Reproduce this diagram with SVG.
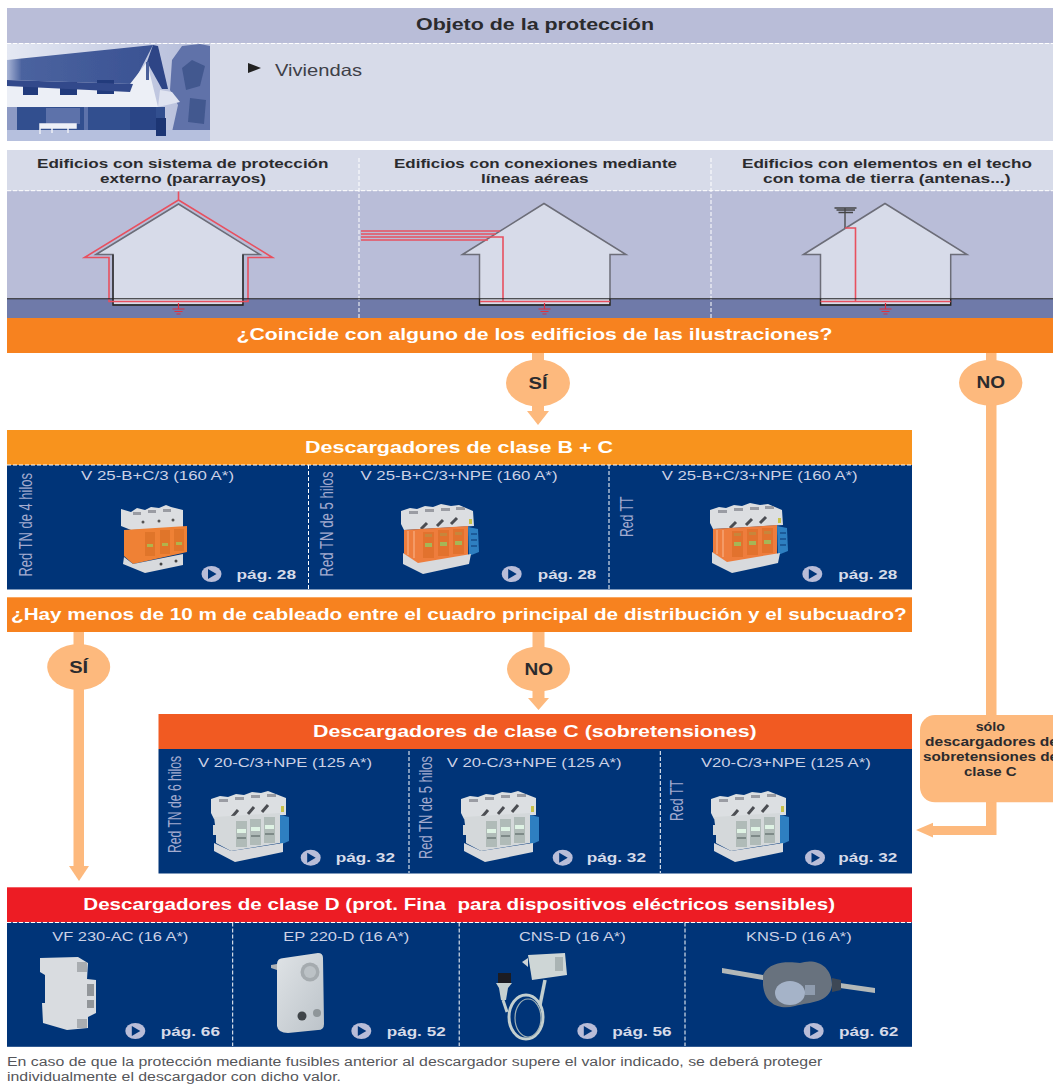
<svg xmlns="http://www.w3.org/2000/svg" xmlns:xlink="http://www.w3.org/1999/xlink" width="1053" height="1084" viewBox="0 0 1053 1084">
<style>
text{font-family:"Liberation Sans",Arial,sans-serif}
.dk{fill:#2b2b2e;font-weight:700;font-size:13.5px}
.ttl{fill:#fff;font-weight:700;font-size:17px}
.lab{fill:#cdd2e6;font-size:13.5px}
.vert{fill:#a3abcf;font-size:17.5px}
.pg{fill:#d7dbe9;font-weight:700;font-size:13.5px}
.badge{fill:#2b2b2e;font-weight:700;font-size:16px}
.dash{stroke:#fff;stroke-width:1;stroke-dasharray:4 2;fill:none}
.hs{fill:#d7dbe9;stroke:#6c6d78;stroke-width:1.5}
.blk{fill:none;stroke:#222;stroke-width:1.3}
.red{fill:none;stroke:#e8505f;stroke-width:1.6}
.blue{fill:#003478}
.conn{fill:#fdb97d}
</style>
<defs>
<filter id="soft" x="-10%" y="-10%" width="120%" height="120%"><feGaussianBlur stdDeviation="0.7"/></filter>
<linearGradient id="sky" x1="0" x2="1" y1="0" y2="0"><stop offset="0" stop-color="#e4e8f3"/><stop offset="1" stop-color="#b3bbd9"/></linearGradient>
<linearGradient id="roof" x1="0" x2="1" y1="0" y2="0"><stop offset="0" stop-color="#a9b5d6"/><stop offset="0.1" stop-color="#4b639f"/><stop offset="1" stop-color="#3a5293"/></linearGradient>
<linearGradient id="body" x1="0" x2="1" y1="0" y2="1"><stop offset="0" stop-color="#dfe3e6"/><stop offset="1" stop-color="#bcc3c9"/></linearGradient>
<g id="play"><ellipse cx="0" cy="0" rx="10" ry="8" fill="#b9bdd8"/><path d="M-3.500-5L5 0L-3.500 5Z" fill="#003478"/></g>
<g id="gnd" stroke="#e0303f" stroke-width="1.200" fill="none"><path d="M0 0V6M-6 6H6M-4 8.500H4M-2 11H2"/></g>
<g id="devB" filter="url(#soft)">
<path d="M0 7L9 4L16 5L24 2L32 3L40 0L50 2L58 1L72 7L73 22L3 26L0 20Z" fill="#dcdee1"/>
<path d="M8 7h9v3h-9zM24 5h9v3h-9zM40 4h9v3h-9zM55 3h9v3h-9z" fill="#9a9ca3"/>
<path d="M20 25L26 19M36 22L42 16M50 20L56 14" stroke="#4c4e52" stroke-width="3"/>
<path d="M68 15l3 0v5l-3 0z" fill="#c8c24a"/>
<path d="M3 26L67 22V52L17 60L3 50Z" fill="#ee7d3e"/>
<path d="M7 27v24M13 27v27" stroke="#f49a66" stroke-width="2"/>
<path d="M22 28h11v26h-11zM37 26h11v26h-11zM52 25h11v25h-11z" fill="#e2722f"/>
<path d="M24 39h7v4h-7zM39 38h7v4h-7zM54 37h7v4h-7z" fill="#a6b656"/>
<path d="M24 30h7v3h-7zM39 29h7v3h-7zM54 28h7v3h-7z" fill="#c7863a"/>
<path d="M67 23L77 25L78 48L68 52Z" fill="#2d7fc1"/>
<path d="M70 30h6M70 36h6M70 42h6" stroke="#174f8c" stroke-width="1.500"/>
<path d="M2 49L17 59L70 50L68 60L22 70L2 60Z" fill="#d8dadd"/>
</g>
<g id="devA" filter="url(#soft)">
<path d="M0 5L10 8L16 4L24 6L30 3L38 4L45 1L50 3L62 6V24L10 26L0 22Z" fill="#dcdee1"/>
<path d="M12 8h8v3h-8zM27 6h8v3h-8zM42 5h8v3h-8z" fill="#9a9ca3"/>
<circle cx="22" cy="18" r="1.500" fill="#555"/><circle cx="38" cy="17" r="1.500" fill="#555"/><circle cx="52" cy="16" r="1.500" fill="#555"/>
<path d="M3 26L66 22V48L12 60L3 52Z" fill="#ef8134"/>
<path d="M24 28h10v24h-10zM39 26h10v24h-10zM53 25h10v22h-10z" fill="#e0752a"/>
<path d="M26 40h6v3h-6zM41 39h6v3h-6zM55 38h6v3h-6z" fill="#b2b34b"/>
<path d="M3 53L12 60L62 50V61L24 69L2 60Z" fill="#d8dadd"/>
<circle cx="40" cy="60" r="1.500" fill="#444"/><circle cx="55" cy="57" r="1.500" fill="#444"/>
</g>
<g id="devC" filter="url(#soft)">
<path d="M0 8L9 5L17 6L25 3L33 4L41 1L50 2L57 0L75 7V24L3 28L0 22Z" fill="#dcdfe2"/>
<path d="M8 8h9v3h-9zM24 6h9v3h-9zM40 4h9v3h-9zM56 3h9v3h-9z" fill="#9a9ca3"/>
<path d="M21 26L27 19M37 23L43 16M51 21L57 14" stroke="#4c4e52" stroke-width="3"/>
<path d="M70 15l3 0v6l-3 0z" fill="#c8c24a"/>
<path d="M3 26L69 22V52L20 60L5 52V44H2V34H4Z" fill="#d4d8da"/>
<path d="M25 30h11v26h-11zM39 28h11v26h-11zM53 26h11v26h-11z" fill="#b0bbb8"/>
<path d="M26 38h9v4h-9zM40 36h9v4h-9zM54 34h9v4h-9z" fill="#dff3e4"/>
<path d="M26 46h9v2h-9zM40 44h9v2h-9zM54 42h9v2h-9z" fill="#7e8a88"/>
<path d="M69 24L78 26V50L69 54Z" fill="#2d7fc1"/>
<path d="M3 52L20 60L72 52V61L24 71L3 60Z" fill="#d8dadd"/>
</g>
</defs>
<rect width="1053" height="1084" fill="#fff"/>

<g id="objeto">
<rect x="7" y="8" width="1046" height="35.500" fill="#b9bdd8"/>
<rect x="7" y="44" width="1046" height="97" fill="#d7dbe9"/>
<path class="dash" d="M7 43.500H1053"/>
<text x="416" y="30" class="dk" style="font-size:16px" textLength="238" lengthAdjust="spacingAndGlyphs">Objeto de la protección</text>
<g id="foto-vivienda" filter="url(#soft)">
<rect x="7" y="44" width="203" height="97" fill="url(#sky)"/>
<path d="M172 60L182 46L200 44L210 46V132H172L178 105L170 90Z" fill="#6072a9"/>
<path d="M182 68L192 60L205 66L200 86L186 90ZM190 98L206 100L204 124L188 122Z" fill="#42588f"/>
<path d="M7 60L153 45L133 84L7 80Z" fill="url(#roof)"/>
<path d="M7 84L130 84L147 62L158 107H7Z" fill="#eceff6"/>
<path d="M158 107L180 102L172 92L160 90Z" fill="#dfe3f0"/>
<path d="M153 45L158 46L168 89L162 89L147 62Z" fill="#2d4486"/>
<path d="M146 62H149V80H146Z" fill="#4a5e99"/>
<path d="M23 84H38V95H23ZM60 82H77V95H60ZM97 80H114V94H97Z" fill="#233b7b"/>
<path d="M7 80L133 84L130 92L7 86Z" fill="#33498b"/>
<path d="M7 107H165V132H7Z" fill="#33508f"/>
<path d="M7 107H17V130H7Z" fill="#8d9ac4"/>
<path d="M84 107H88V130H84ZM46 108H80V124H46Z" fill="#5d72aa"/>
<path d="M7 130H210V141H7Z" fill="#b6c0de"/>
<path d="M130 107H156V130H130Z" fill="#2b4586"/>
<path d="M40 124H76V128H40ZM40 124V134M52 128V133M68 128V133" stroke="#eef0f7" stroke-width="1.500" fill="#eef0f7"/>
<path d="M156 118H166V136H156Z" fill="#1f3673"/>
</g>
<path d="M248 63L261 68L248 73Z" fill="#222"/>
<text x="275" y="75.500" fill="#3e4048" font-size="16.500" textLength="87" lengthAdjust="spacingAndGlyphs">Viviendas</text>
</g>

<g id="edificios">
<rect x="7" y="150" width="1046" height="41" fill="#d7dbe9"/>
<rect x="7" y="191" width="1046" height="108" fill="#b9bdd8"/>
<rect x="7" y="299" width="1046" height="19" fill="#6f7aa9"/>
<path class="dash" d="M7 190.700H1053M359 158V318M711 158V318"/>
<text x="37" y="168" class="dk" textLength="291.500" lengthAdjust="spacingAndGlyphs">Edificios con sistema de protección</text>
<text x="100" y="183" class="dk" textLength="166" lengthAdjust="spacingAndGlyphs">externo (pararrayos)</text>
<text x="394" y="168" class="dk" textLength="283" lengthAdjust="spacingAndGlyphs">Edificios con conexiones mediante</text>
<text x="481" y="183" class="dk" textLength="107.500" lengthAdjust="spacingAndGlyphs">líneas aéreas</text>
<text x="742" y="168" class="dk" textLength="290" lengthAdjust="spacingAndGlyphs">Edificios con elementos en el techo</text>
<text x="763" y="183" class="dk" textLength="247.500" lengthAdjust="spacingAndGlyphs">con toma de tierra (antenas...)</text>
</g>

<g id="casa-1">
<path class="hs" d="M96 254.500L178.500 204L260 254.500H243V305H113V254.500Z"/>
<path class="blk" d="M113 254.500V305H243V254.500"/>
<path class="red" d="M178.500 191.500V200L84.500 257.500H109V301.500H248V257.500H272.500L178.500 200"/>
<use href="#gnd" x="178.500" y="303"/>
</g>
<g id="casa-2">
<path class="hs" d="M462.500 254.500L544 203.500L626 254.500H610V305H479.500V254.500Z"/>
<path class="blk" d="M479.500 299V305H610V299"/>
<path class="red" d="M361 231H500M361 234H496M361 237H503V301.500M361 240H488M480 301.500H610"/>
<use href="#gnd" x="544.500" y="303"/>
</g>
<g id="casa-3">
<path class="hs" d="M803.500 254.500L885 203.500L967 254.500H950.700V305H820.500V254.500Z"/>
<path class="blk" d="M820.500 299V305H950.700V299"/>
<path d="M845 208V228M834.500 208H856.500M836.500 210H855M838.500 212.500H853" stroke="#444" stroke-width="1.300" fill="none"/>
<path class="red" d="M845 228H855.500V301.500M820.500 301.500H950.700"/>
<use href="#gnd" x="885.500" y="303"/>
</g>
<path id="suelo" d="M7 298.700H1053" stroke="#222" stroke-width="1.100"/>

<g id="conectores">
<rect class="conn" x="532" y="353" width="12" height="60"/>
<path class="conn" d="M527 411H549L538 425Z"/>
<rect class="conn" x="986" y="353" width="10.500" height="362"/>
<path class="conn" d="M986 802H996.500V835H933V837.500L916 830L933 822.700V826H986Z"/>
<rect class="conn" x="73.500" y="632" width="10.500" height="236"/>
<path class="conn" d="M69 866H89L79 881Z"/>
<rect class="conn" x="532.500" y="632" width="12" height="68"/>
<path class="conn" d="M528 698H549L538.500 710Z"/>
</g>

<g id="pregunta-1">
<rect x="7" y="318" width="1046" height="35" fill="#f7821f"/>
<text x="236.500" y="340" class="ttl" textLength="596" lengthAdjust="spacingAndGlyphs">¿Coincide con alguno de los edificios de las ilustraciones?</text>
</g>
<g id="si-1"><ellipse class="conn" cx="538" cy="383" rx="32" ry="23.500"/><text x="528.500" y="388.500" class="badge" textLength="19" lengthAdjust="spacingAndGlyphs">SÍ</text></g>
<g id="no-1"><ellipse class="conn" cx="990.700" cy="382.700" rx="31.700" ry="23"/><text x="976.500" y="388" class="badge" textLength="28.500" lengthAdjust="spacingAndGlyphs">NO</text></g>

<g id="clase-bc">
<rect x="7" y="430" width="905" height="35" fill="#f8931d"/>
<rect class="blue" x="7" y="465" width="905" height="124.500"/>
<path class="dash" d="M7 465H912M308.500 465V589M609 465V589"/>
<text x="305" y="452.500" class="ttl" textLength="308" lengthAdjust="spacingAndGlyphs">Descargadores de clase B + C</text>
<text x="81" y="480" class="lab" textLength="153" lengthAdjust="spacingAndGlyphs">V 25-B+C/3 (160 A*)</text>
<text x="360.500" y="480" class="lab" textLength="197" lengthAdjust="spacingAndGlyphs">V 25-B+C/3+NPE (160 A*)</text>
<text x="661.700" y="480" class="lab" textLength="196" lengthAdjust="spacingAndGlyphs">V 25-B+C/3+NPE (160 A*)</text>
<text transform="translate(32 576.500) rotate(-90)" class="vert" textLength="103.500" lengthAdjust="spacingAndGlyphs">Red TN de 4 hilos</text>
<text transform="translate(333 576.500) rotate(-90)" class="vert" textLength="105" lengthAdjust="spacingAndGlyphs">Red TN de 5 hilos</text>
<text transform="translate(633 537) rotate(-90)" class="vert" textLength="40.500" lengthAdjust="spacingAndGlyphs">Red TT</text>
<use href="#devA" x="121" y="504"/>
<use href="#devB" x="401" y="504"/>
<use href="#devB" x="710" y="503"/>
<use href="#play" x="211.500" y="574"/><text x="236.500" y="578.500" class="pg" textLength="59.500" lengthAdjust="spacingAndGlyphs">pág. 28</text>
<use href="#play" x="511.700" y="574"/><text x="537.800" y="578.500" class="pg" textLength="58.500" lengthAdjust="spacingAndGlyphs">pág. 28</text>
<use href="#play" x="812.300" y="574"/><text x="838.300" y="578.500" class="pg" textLength="59" lengthAdjust="spacingAndGlyphs">pág. 28</text>
</g>

<g id="pregunta-2">
<rect x="7" y="597.300" width="905" height="34.700" fill="#f7821f"/>
<text x="11" y="620" class="ttl" textLength="895.700" lengthAdjust="spacingAndGlyphs">¿Hay menos de 10 m de cableado entre el cuadro principal de distribución y el subcuadro?</text>
</g>
<g id="si-2"><ellipse class="conn" cx="78.700" cy="667" rx="31.500" ry="23"/><text x="69.200" y="672.500" class="badge" textLength="19" lengthAdjust="spacingAndGlyphs">SÍ</text></g>
<g id="no-2"><ellipse class="conn" cx="538.500" cy="669" rx="31.500" ry="22.500"/><text x="524.500" y="674.500" class="badge" textLength="28.500" lengthAdjust="spacingAndGlyphs">NO</text></g>

<g id="clase-c">
<rect x="158.500" y="714" width="753.500" height="35" fill="#f15a22"/>
<rect class="blue" x="158.500" y="749" width="753.500" height="124.500"/>
<path class="dash" d="M409 751V873M660.300 751V873"/>
<text x="313" y="736.500" class="ttl" textLength="443.700" lengthAdjust="spacingAndGlyphs">Descargadores de clase C (sobretensiones)</text>
<text x="198" y="767.300" class="lab" textLength="174" lengthAdjust="spacingAndGlyphs">V 20-C/3+NPE (125 A*)</text>
<text x="446.700" y="767.300" class="lab" textLength="175" lengthAdjust="spacingAndGlyphs">V 20-C/3+NPE (125 A*)</text>
<text x="701" y="767.300" class="lab" textLength="169.700" lengthAdjust="spacingAndGlyphs">V20-C/3+NPE (125 A*)</text>
<text transform="translate(181 853) rotate(-90)" class="vert" textLength="97" lengthAdjust="spacingAndGlyphs">Red TN de 6 hilos</text>
<text transform="translate(432 859) rotate(-90)" class="vert" textLength="103" lengthAdjust="spacingAndGlyphs">Red TN de 5 hilos</text>
<text transform="translate(683 821) rotate(-90)" class="vert" textLength="41" lengthAdjust="spacingAndGlyphs">Red TT</text>
<use href="#devC" x="211" y="791"/>
<use href="#devC" x="461" y="791"/>
<use href="#devC" x="711" y="791"/>
<use href="#play" x="310.700" y="857.700"/><text x="335.700" y="862" class="pg" textLength="59.300" lengthAdjust="spacingAndGlyphs">pág. 32</text>
<use href="#play" x="562.700" y="857.700"/><text x="586.700" y="862" class="pg" textLength="59.300" lengthAdjust="spacingAndGlyphs">pág. 32</text>
<use href="#play" x="815" y="857.700"/><text x="838.300" y="862" class="pg" textLength="59" lengthAdjust="spacingAndGlyphs">pág. 32</text>
</g>

<g id="solo-clase-c">
<rect x="920" y="715" width="150" height="87.300" rx="15" class="conn"/>
<text x="975.700" y="731" class="dk" textLength="29.300" lengthAdjust="spacingAndGlyphs">sólo</text>
<text x="925" y="746" class="dk" textLength="133" lengthAdjust="spacingAndGlyphs">descargadores de</text>
<text x="923" y="761" class="dk" textLength="135" lengthAdjust="spacingAndGlyphs">sobretensiones de</text>
<text x="964" y="776" class="dk" textLength="52.700" lengthAdjust="spacingAndGlyphs">clase C</text>
</g>

<g id="clase-d">
<rect x="7" y="887.300" width="905" height="35" fill="#ed1c24"/>
<rect class="blue" x="7" y="922.300" width="905" height="124.500"/>
<path class="dash" d="M7 922.500H912M232.700 922.500V1046M459.200 922.500V1046M685 922.500V1046"/>
<text x="83.300" y="910" class="ttl" textLength="751.700" lengthAdjust="spacingAndGlyphs" xml:space="preserve">Descargadores de clase D (prot. Fina  para dispositivos eléctricos sensibles)</text>
<text x="52.300" y="940.700" class="lab" textLength="136" lengthAdjust="spacingAndGlyphs">VF 230-AC (16 A*)</text>
<text x="283.300" y="940.700" class="lab" textLength="126" lengthAdjust="spacingAndGlyphs">EP 220-D (16 A*)</text>
<text x="519" y="940.700" class="lab" textLength="106.700" lengthAdjust="spacingAndGlyphs">CNS-D (16 A*)</text>
<text x="746" y="940.700" class="lab" textLength="105.700" lengthAdjust="spacingAndGlyphs">KNS-D (16 A*)</text>
<g filter="url(#soft)">
<path d="M40 958L78 957L88 963L87 979L96 980V1013L88 1017V1028L67 1030L43 1023L42 1003H45V975L40 972Z" fill="#d9dce0"/>
<path d="M77 962H87V972H77ZM77 1019H87V1028H77Z" fill="#a9adb1"/>
<path d="M87 984H94V996H87ZM87 1000H94V1008H87Z" fill="#92969a"/>
<path d="M271 965L277 964V970L271 968Z" fill="#aeb1b4"/>
<path d="M277 964Q277 958 284 958L318 953Q323 953 323 958L324 1024Q324 1030 318 1030L288 1033Q278 1033 277 1026Z" fill="url(#body)"/>
<circle cx="310" cy="972" r="9.500" fill="#a5abaf"/><circle cx="310" cy="972" r="6" fill="#bcc2c6"/>
<circle cx="302" cy="1016" r="4.500" fill="#3f4448"/><circle cx="317" cy="1013" r="4" fill="#8f969a"/>
<path d="M522 962L528 958V967Z" fill="#ced4d6"/>
<path d="M528 955L565 953L567 975L532 980Z" fill="#ced6d6"/>
<path d="M555 957h8v14h-8z" fill="#aab4b4"/>
<path d="M545 980L540 1005" stroke="#c3cfcf" stroke-width="3.500" fill="none"/>
<rect x="498" y="973" width="13" height="10" fill="#1c1c22"/>
<path d="M496 983H512L508 988L506 1000H501L499 988Z" fill="#c6d0d0"/>
<path d="M503 1000L507 1012" stroke="#c3cfcf" stroke-width="3" fill="none"/>
<ellipse cx="526" cy="1017" rx="17" ry="22" fill="none" stroke="#c3cfcf" stroke-width="3"/>
<ellipse cx="528" cy="1018" rx="13" ry="19" fill="none" stroke="#9fb0b5" stroke-width="1.200"/>
<path d="M722 968L763 975V980L722 973ZM840 983L875 988V993L840 988Z" fill="#b3b8b8"/>
<path d="M763 975C770 960 790 962 800 963C815 958 832 965 832 985C830 1003 810 1002 795 1006C780 1010 765 1005 763 985Z" fill="#68727e"/>
<ellipse cx="790" cy="993" rx="15" ry="12" fill="#a5b3c8"/>
<path d="M805 985h10v10h-10z" fill="#8f9cae"/>
<path d="M832 978L841 980V990L832 992Z" fill="#3d4754"/>
</g>
<use href="#play" x="135.300" y="1031"/><text x="160.700" y="1035.500" class="pg" textLength="59.300" lengthAdjust="spacingAndGlyphs">pág. 66</text>
<use href="#play" x="361.300" y="1031"/><text x="386.700" y="1035.500" class="pg" textLength="59" lengthAdjust="spacingAndGlyphs">pág. 52</text>
<use href="#play" x="587.300" y="1031"/><text x="612.300" y="1035.500" class="pg" textLength="59.400" lengthAdjust="spacingAndGlyphs">pág. 56</text>
<use href="#play" x="813.700" y="1031"/><text x="839" y="1035.500" class="pg" textLength="59.300" lengthAdjust="spacingAndGlyphs">pág. 62</text>
</g>

<g id="nota">
<text x="7" y="1066" fill="#55565a" font-size="12.500" textLength="815.300" lengthAdjust="spacingAndGlyphs">En caso de que la protección mediante fusibles anterior al descargador supere el valor indicado, se deberá proteger</text>
<text x="7" y="1081" fill="#55565a" font-size="12.500" textLength="334" lengthAdjust="spacingAndGlyphs">individualmente el descargador con dicho valor.</text>
</g>
</svg>
